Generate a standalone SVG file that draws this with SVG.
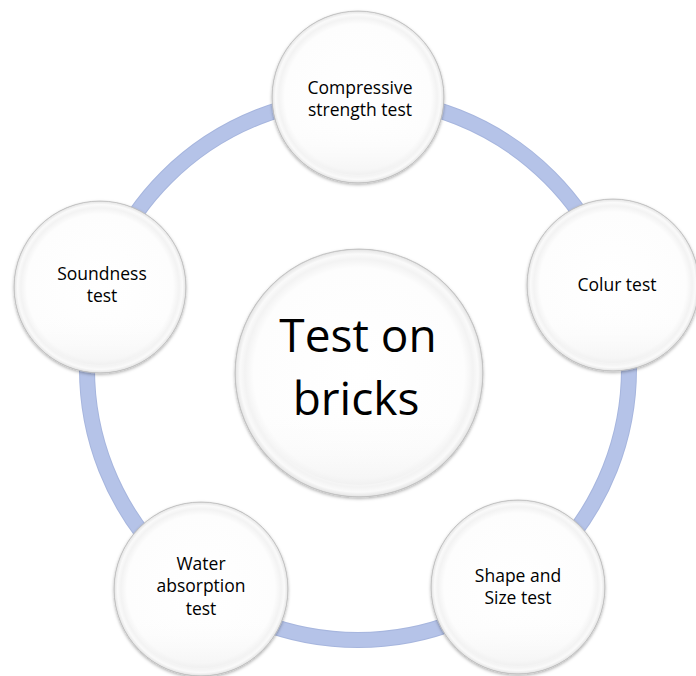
<svg xmlns="http://www.w3.org/2000/svg" width="696" height="676" viewBox="0 0 696 676">
  <defs>
    <radialGradient id="disc" cx="0.5" cy="0.5" r="0.5">
      <stop offset="0" stop-color="#ffffff"/>
      <stop offset="0.85" stop-color="#fdfdfd"/>
      <stop offset="0.92" stop-color="#f3f3f3"/>
      <stop offset="0.96" stop-color="#fafafa"/>
      <stop offset="0.99" stop-color="#e8e8e8"/>
      <stop offset="1" stop-color="#c4c4c4"/>
    </radialGradient>
    <linearGradient id="sheen" x1="0" y1="0" x2="0" y2="1">
      <stop offset="0" stop-color="#ffffff" stop-opacity="0"/>
      <stop offset="0.65" stop-color="#ffffff" stop-opacity="0"/>
      <stop offset="1" stop-color="#ececec" stop-opacity="0.5"/>
    </linearGradient>
    <filter id="shadow" x="-20%" y="-20%" width="140%" height="140%">
      <feDropShadow dx="0" dy="1.5" stdDeviation="1.5" flood-color="#000" flood-opacity="0.3"/>
    </filter>
  </defs>
  <style>
    .disc { fill: url(#disc); stroke: #bdbdbd; stroke-width: 0.8; filter: url(#shadow); }
    .sheen { fill: url(#sheen); }
    .label { font-family: "Open Sans", "Liberation Sans", sans-serif; font-size: 17.5px; fill: #000; text-anchor: middle; }
    .title { font-family: "Open Sans", "Liberation Sans", sans-serif; font-size: 46px; fill: #000; text-anchor: middle; }
  </style>

  <rect width="696" height="676" fill="#ffffff"/>

  <!-- cycle band behind the discs -->
  <g id="connectors">
    <circle cx="358" cy="369" r="271" fill="none" stroke="#a7b6de" stroke-width="16"/>
    <circle cx="358" cy="369" r="271" fill="none" stroke="#b5c3e8" stroke-width="14"/>
  </g>

  <g id="center">
    <circle class="disc" cx="359" cy="373" r="124"/>
    <circle class="sheen" cx="359" cy="373" r="112"/>
    <text class="title" x="358" y="352">Test on</text>
    <text class="title" x="356" y="415">bricks</text>
  </g>

  <g id="compressive">
    <circle class="disc" cx="358" cy="97" r="86"/>
    <circle class="sheen" cx="358" cy="97" r="78"/>
    <text class="label" x="360" y="94">Compressive</text>
    <text class="label" x="360" y="116">strength test</text>
  </g>

  <g id="colour">
    <circle class="disc" cx="613" cy="285" r="86"/>
    <circle class="sheen" cx="613" cy="285" r="78"/>
    <text class="label" x="617" y="291">Colur test</text>
  </g>

  <g id="shape-size">
    <circle class="disc" cx="518" cy="587" r="87"/>
    <circle class="sheen" cx="518" cy="587" r="79"/>
    <text class="label" x="518" y="582">Shape and</text>
    <text class="label" x="518" y="604">Size test</text>
  </g>

  <g id="water-absorption">
    <circle class="disc" cx="201" cy="589" r="87"/>
    <circle class="sheen" cx="201" cy="589" r="79"/>
    <text class="label" x="201" y="570">Water</text>
    <text class="label" x="201" y="592">absorption</text>
    <text class="label" x="201" y="615">test</text>
  </g>

  <g id="soundness">
    <circle class="disc" cx="100" cy="287" r="86"/>
    <circle class="sheen" cx="100" cy="287" r="78"/>
    <text class="label" x="102" y="280">Soundness</text>
    <text class="label" x="102" y="302">test</text>
  </g>
</svg>
